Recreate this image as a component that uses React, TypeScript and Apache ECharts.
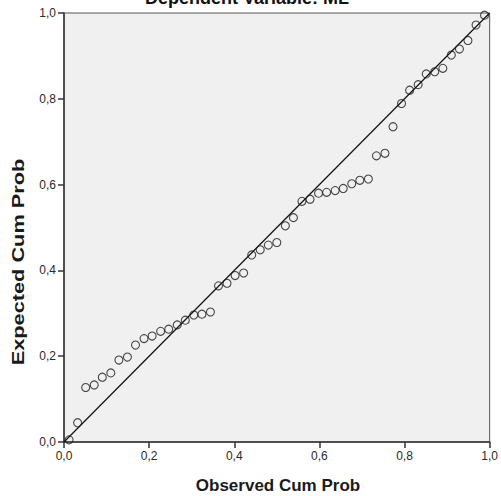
import React, { useEffect, useRef } from "react";
import * as echarts from "echarts";

const titleText = "Dependent Variable: ML";
const xAxisTitle = "Observed Cum Prob";
const yAxisTitle = "Expected Cum Prob";

const observedCumProb = [
  0.012, 0.032, 0.051, 0.071, 0.090, 0.110, 0.129, 0.149, 0.168, 0.188,
  0.207, 0.227, 0.246, 0.266, 0.285, 0.305, 0.324, 0.344, 0.363, 0.383,
  0.402, 0.422, 0.441, 0.461, 0.480, 0.500, 0.520, 0.539, 0.559, 0.578,
  0.598, 0.617, 0.637, 0.656, 0.676, 0.695, 0.715, 0.734, 0.754, 0.773,
  0.793, 0.812, 0.832, 0.851, 0.871, 0.890, 0.910, 0.929, 0.949, 0.968,
  0.988,
];

const expectedCumProb = [
  0.005, 0.045, 0.127, 0.133, 0.151, 0.161, 0.191, 0.198, 0.226, 0.241,
  0.247, 0.258, 0.263, 0.273, 0.284, 0.296, 0.298, 0.303, 0.364, 0.370,
  0.388, 0.394, 0.436, 0.448, 0.459, 0.465, 0.504, 0.523, 0.561, 0.566,
  0.580, 0.582, 0.586, 0.591, 0.602, 0.610, 0.613, 0.667, 0.673, 0.735,
  0.789, 0.820, 0.833, 0.858, 0.863, 0.871, 0.902, 0.916, 0.936, 0.972,
  0.995,
];

const referenceLine = [
  [0, 0],
  [1, 1],
];

const fmt = (v: number) => v.toFixed(1).replace(".", ",");

export default function App() {
  const ref = useRef<HTMLDivElement>(null);

  useEffect(() => {
    if (!ref.current) return;
    const chart = echarts.init(ref.current, undefined, { renderer: "svg" });
    const font = "'Liberation Sans', Arial, sans-serif";
    const points = observedCumProb.map((x, i) => [x, expectedCumProb[i]]);
    chart.setOption({
      animation: false,
      backgroundColor: "#ffffff",
      grid: {
        left: 64,
        right: 9,
        top: 13,
        bottom: 54,
        show: true,
        backgroundColor: "#f0f0f0",
        borderColor: "#555555",
        borderWidth: 1,
      },
      xAxis: {
        type: "value",
        min: 0,
        max: 1,
        interval: 0.2,
        axisLine: { show: true, lineStyle: { color: "#333333", width: 1.5 } },
        axisTick: { show: true, length: 6, lineStyle: { color: "#333333", width: 1.5 } },
        axisLabel: { color: "#2a2a2a", fontSize: 12, fontFamily: font, margin: 8, formatter: fmt },
        splitLine: { show: false },
      },
      yAxis: {
        type: "value",
        min: 0,
        max: 1,
        interval: 0.2,
        axisLine: { show: true, lineStyle: { color: "#333333", width: 1.5 } },
        axisTick: { show: true, length: 6, lineStyle: { color: "#333333", width: 1.5 } },
        axisLabel: { color: "#2a2a2a", fontSize: 12, fontFamily: font, margin: 8, formatter: fmt },
        splitLine: { show: false },
      },
      series: [
        {
          type: "line",
          data: referenceLine,
          showSymbol: false,
          symbol: "none",
          lineStyle: { color: "#111111", width: 1.2 },
          silent: true,
          z: 3,
        },
        {
          type: "scatter",
          data: points,
          symbol: "circle",
          symbolSize: 8,
          itemStyle: { color: "rgba(0,0,0,0)", borderColor: "#1a1a1a", borderWidth: 1.1 },
          z: 4,
        },
      ],
      graphic: [
        {
          type: "text",
          x: 247,
          y: -2,
          style: {
            text: titleText,
            fontSize: 18,
            fontWeight: "bold",
            fontFamily: font,
            fill: "#111111",
            align: "center",
            verticalAlign: "middle",
          },
        },
        {
          type: "text",
          x: 278,
          y: 485,
          style: {
            text: xAxisTitle,
            fontSize: 17,
            fontWeight: "bold",
            fontFamily: font,
            fill: "#1a1a1a",
            align: "center",
            verticalAlign: "middle",
          },
        },
        {
          type: "text",
          x: 18,
          y: 262,
          rotation: Math.PI / 2,
          scaleX: 1.28,
          style: {
            text: yAxisTitle,
            fontSize: 17,
            fontWeight: "bold",
            fontFamily: font,
            fill: "#1a1a1a",
            align: "center",
            verticalAlign: "middle",
          },
        },
      ],
    });
    return () => chart.dispose();
  }, []);

  return (
    <div
      ref={ref}
      style={{ position: "fixed", left: 0, top: 0, width: 501, height: 496 }}
    />
  );
}
